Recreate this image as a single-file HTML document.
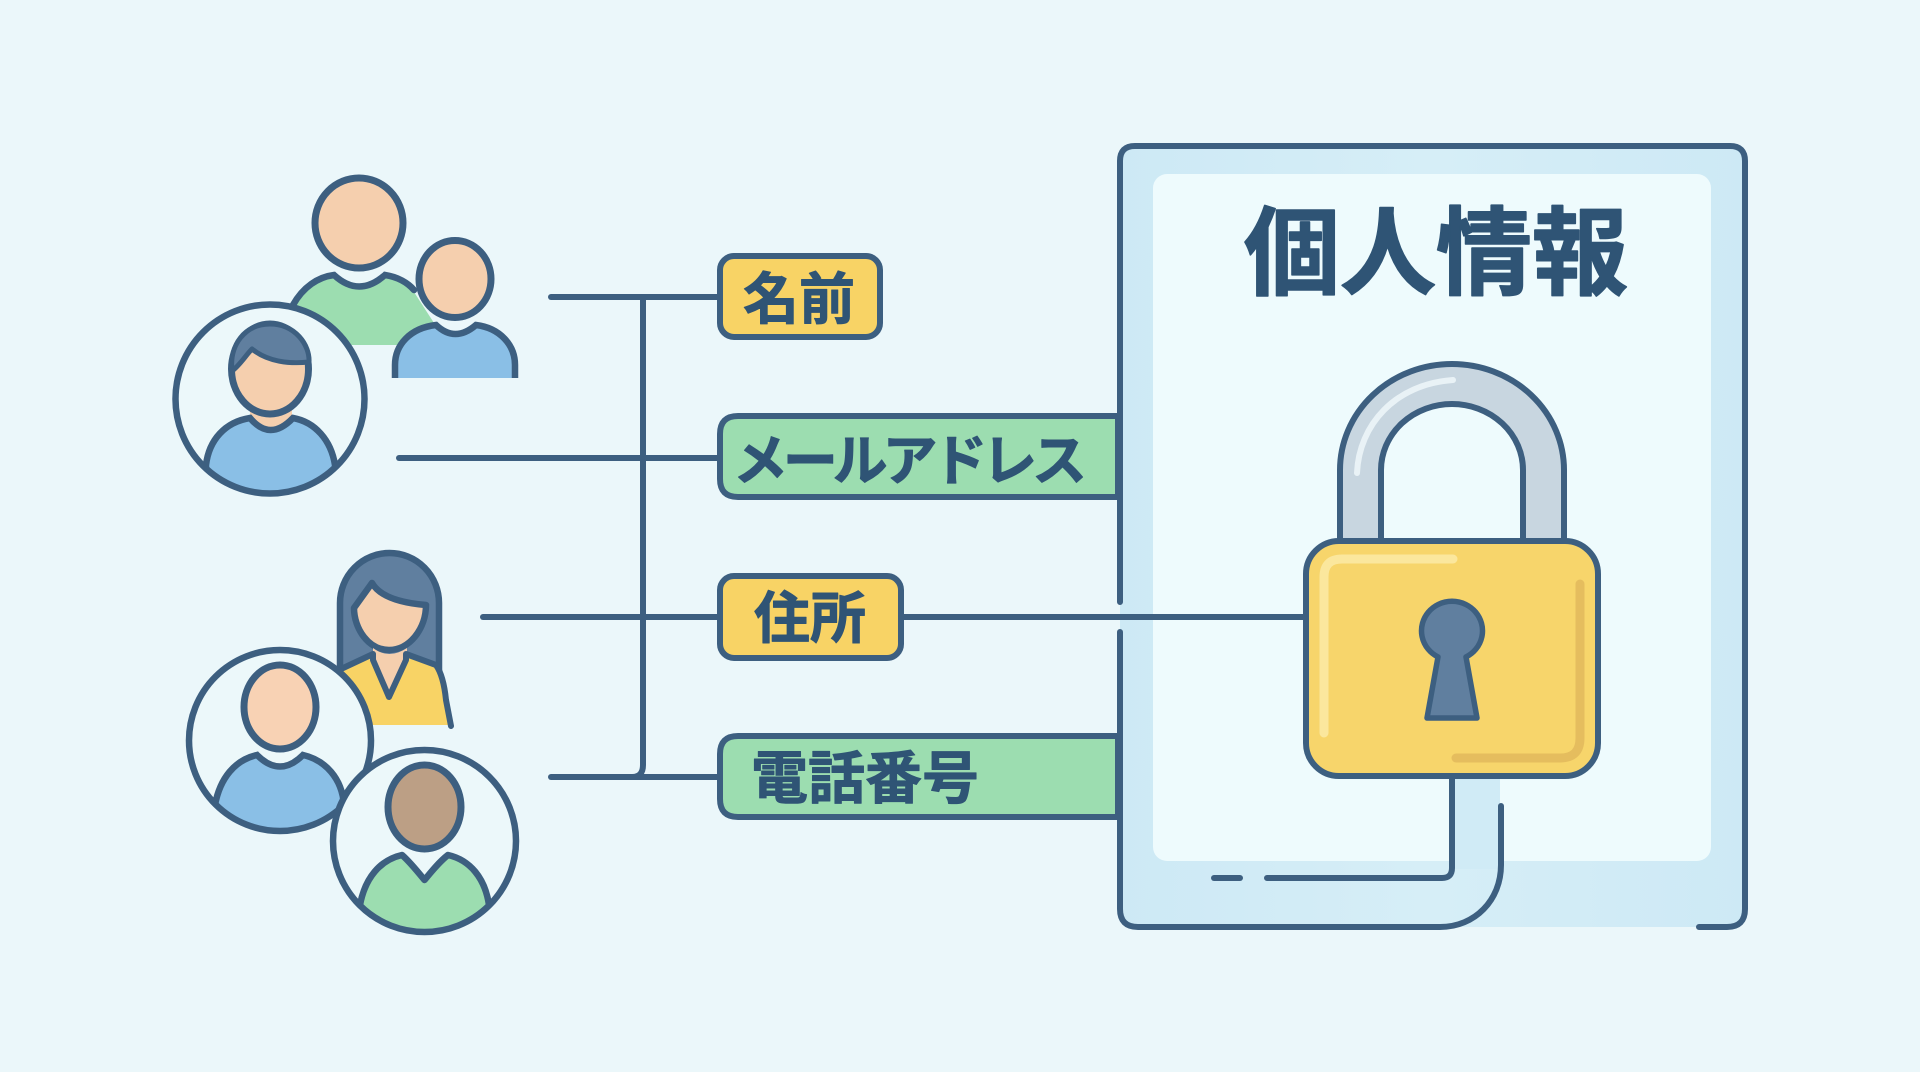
<!DOCTYPE html>
<html lang="ja"><head><meta charset="utf-8"><title>個人情報</title>
<style>
html,body{margin:0;padding:0;width:1920px;height:1072px;overflow:hidden;background:#ebf7fa}
svg{display:block}
text{font-family:"Liberation Sans","Noto Sans CJK JP",sans-serif;font-weight:700;fill:#2f5475;stroke:#2f5475;stroke-width:.9;stroke-linejoin:round}
</style></head><body>
<svg width="1920" height="1072" viewBox="0 0 1920 1072" xmlns="http://www.w3.org/2000/svg">
<defs>
<linearGradient id="pan" x1="0" y1="0" x2="1" y2="0"><stop offset="0" stop-color="#cde9f5"/><stop offset=".5" stop-color="#d6eef7"/><stop offset="1" stop-color="#cde9f5"/></linearGradient>
<clipPath id="c1"><circle cx="270" cy="399" r="94"/></clipPath>
<clipPath id="c4"><ellipse cx="280" cy="740.5" rx="91" ry="90.5"/></clipPath>
<clipPath id="c5"><ellipse cx="424.5" cy="841" rx="91.5" ry="91"/></clipPath>
</defs>
<rect width="1920" height="1072" fill="#ebf7fa"/>

<!-- panel -->
<path d="M1135 146H1730Q1745 146 1745 161V909Q1745 927 1727 927H1138Q1120 927 1120 909V161Q1120 146 1135 146Z" fill="url(#pan)"/>
<rect x="1153" y="174" width="558" height="687" rx="14" fill="#eefbfd"/>
<rect x="1453" y="779" width="47" height="90" fill="#d0ebf6"/>
<g fill="none" stroke="#3d5f80" stroke-width="6" stroke-linecap="round">
<path d="M1120 602V161Q1120 146 1135 146H1730Q1745 146 1745 161V909Q1745 927 1727 927H1699"/>
<path d="M1120 632V909Q1120 927 1138 927H1440C1475 927 1501 900 1501 865V806"/>
<path d="M1452 779V868Q1452 878 1442 878H1267"/>
<path d="M1214 878H1240"/>
</g>

<!-- connectors -->
<g fill="none" stroke="#3d5f80" stroke-width="6" stroke-linecap="round">
<path d="M551 297H720"/>
<path d="M399 458H720"/>
<path d="M483 617H720"/>
<path d="M904 617H1305"/>
<path d="M551 777H720"/>
<path d="M643 297V765Q643 777 632 777"/>
</g>

<!-- boxes -->
<rect x="720" y="256" width="160" height="81" rx="14" fill="#f8d365" stroke="#3d5f80" stroke-width="6"/>
<path d="M1118 416H738Q720 416 720 434V479Q720 497 738 497H1118Z" fill="#9cddb0" stroke="#3d5f80" stroke-width="6"/>
<rect x="720" y="576" width="181" height="82" rx="14" fill="#f8d365" stroke="#3d5f80" stroke-width="6"/>
<path d="M1118 736H738Q720 736 720 754V799Q720 817 738 817H1118Z" fill="#9cddb0" stroke="#3d5f80" stroke-width="6"/>
<text x="743" y="319" font-size="56" textLength="112" lengthAdjust="spacingAndGlyphs">名前</text>
<text x="733" y="480" font-size="55" textLength="354" lengthAdjust="spacing">メールアドレス</text>
<text x="754" y="638" font-size="56" textLength="112" lengthAdjust="spacingAndGlyphs">住所</text>
<text x="751" y="798" font-size="57" textLength="228" lengthAdjust="spacingAndGlyphs">電話番号</text>
<text x="1244" y="287" font-size="96" textLength="384" lengthAdjust="spacingAndGlyphs" style="stroke-width:1.6">個人情報</text>

<!-- person group 1 -->
<path d="M293 305C303 287 318 277 334 275Q359 298 385 275C398 277 408 283 414 292L434 323L420 345H300Z" fill="#9cddb0"/>
<path d="M293 305C303 287 318 277 334 275Q359 298 385 275C398 277 408 283 414 290" fill="none" stroke="#3d5f80" stroke-width="6.5" stroke-linecap="round"/>
<ellipse cx="359" cy="223" rx="44" ry="45" fill="#f5cfae" stroke="#3d5f80" stroke-width="7"/>
<path d="M395 378V365C395 345 410 328 436 325Q455 343 476 325C500 328 515 345 515 365V378Z" fill="#8abfe6"/>
<path d="M395 378V365C395 345 410 328 436 325Q455 343 476 325C500 328 515 345 515 365V378" fill="none" stroke="#3d5f80" stroke-width="6.5"/>
<ellipse cx="455" cy="279" rx="36" ry="38.5" fill="#f5cfae" stroke="#3d5f80" stroke-width="7"/>
<circle cx="270" cy="399" r="94.5" fill="#ecf8fa"/>
<g clip-path="url(#c1)">
<path d="M250 410H292V430H250Z" fill="#f5cfae"/>
<path d="M206 500V465C209 440 225 422 250 418Q270 442 293 418C315 422 331 440 335 465V500Z" fill="#8abfe6" stroke="#3d5f80" stroke-width="6.5"/>
</g>
<circle cx="270" cy="399" r="94.5" fill="none" stroke="#3d5f80" stroke-width="6.5"/>
<ellipse cx="270" cy="369" rx="38.5" ry="45" fill="#f5cfae" stroke="#3d5f80" stroke-width="7"/>
<path d="M232 371C229 345 245 324 270 324C295 324 310 345 309 362C290 364 268 362 252 349C246 355 240 365 232 371Z" fill="#607f9f" stroke="#3d5f80" stroke-width="5" stroke-linejoin="round"/>

<!-- person group 2 -->
<path d="M340 668V603A49.5 50 0 0 1 439 603V668Z" fill="#607f9f" stroke="#3d5f80" stroke-width="6.5"/>
<path d="M354 608L372 583C380 597 402 603 426 605C426 628 410 650 389 650C368 650 354 628 354 608Z" fill="#f5cfae" stroke="#3d5f80" stroke-width="6.5" stroke-linejoin="round"/>
<path d="M373 648V655L389 695L407 655V648Q389 660 373 648Z" fill="#f5cfae"/>
<path d="M335 725V672L372 655L389 696L408 655L438 668C445 680 447 700 449 725Z" fill="#f8d365"/>
<path d="M341 669L373 654V660L389 697L406 660V654L436 665C443 675 445 690 446 700L451 726" fill="none" stroke="#3d5f80" stroke-width="6" stroke-linecap="round" stroke-linejoin="round"/>

<ellipse cx="280" cy="740.5" rx="91" ry="90.5" fill="#ecf8fa"/>
<g clip-path="url(#c4)">
<path d="M215 840V805C220 778 235 760 257 755Q280 778 303 755C325 760 342 778 344 805V840Z" fill="#8abfe6" stroke="#3d5f80" stroke-width="6.5"/>
</g>
<ellipse cx="280" cy="740.5" rx="91" ry="90.5" fill="none" stroke="#3d5f80" stroke-width="6.5"/>
<ellipse cx="280" cy="707" rx="36" ry="42" fill="#f8d2b4" stroke="#3d5f80" stroke-width="7"/>

<ellipse cx="424.5" cy="841" rx="91.5" ry="91" fill="#ecf8fa"/>
<g clip-path="url(#c5)">
<path d="M360 940V905C365 878 380 860 402 855C410 862 418 872 424.5 880C431 872 439 862 448 855C470 860 485 878 489 905V940Z" fill="#9cddb0" stroke="#3d5f80" stroke-width="6.5" stroke-linejoin="round"/>
</g>
<ellipse cx="424.5" cy="841" rx="91.5" ry="91" fill="none" stroke="#3d5f80" stroke-width="6.5"/>
<ellipse cx="424.5" cy="807" rx="36.5" ry="42" fill="#bc9f85" stroke="#3d5f80" stroke-width="7"/>

<!-- shackle -->
<path d="M1340 541V470A112 106 0 0 1 1564 470V541H1523V470A71 66 0 0 0 1381 470V541Z" fill="#c8d6e0" stroke="#3d5f80" stroke-width="6" stroke-linejoin="round"/>
<path d="M1357 473C1359 425 1395 384 1453 380" fill="none" stroke="#e9f2f6" stroke-width="6" stroke-linecap="round"/>

<!-- lock body -->
<rect x="1306" y="541" width="292" height="235" rx="33" fill="#f7d56b" stroke="#3d5f80" stroke-width="6"/>
<path d="M1324 733V577Q1324 559 1342 559H1453" fill="none" stroke="#fbe79d" stroke-width="9" stroke-linecap="round"/>
<path d="M1580 584V738Q1580 758 1560 758H1456" fill="none" stroke="#e5bd5e" stroke-width="9" stroke-linecap="round"/>
<path d="M1438 657A30.5 29.5 0 1 1 1466 657L1477 718H1427Z" fill="#607f9f" stroke="#3d5f80" stroke-width="5.5" stroke-linejoin="round"/>
</svg>
</body></html>
